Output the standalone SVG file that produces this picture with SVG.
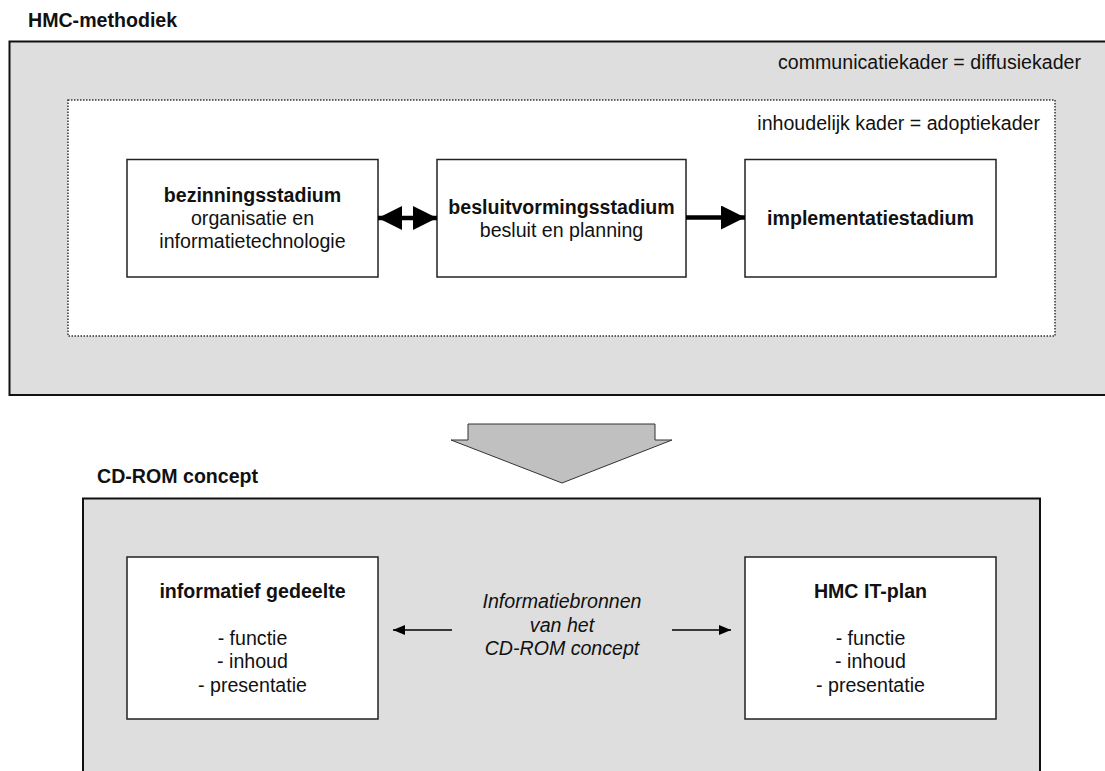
<svg xmlns="http://www.w3.org/2000/svg" width="1105" height="771" viewBox="0 0 1105 771">
  <style>
    text { font-family: "Liberation Sans", Arial, sans-serif; font-size: 19.6px; fill: #111; }
    .b { font-weight: bold; }
    .i { font-style: italic; }
    .mid { text-anchor: middle; }
    .frame { fill: #dedede; stroke: #111; stroke-width: 2; }
    .box { fill: #fff; stroke: #222; stroke-width: 1.5; }
    .dotted { fill: #fff; stroke: #333; stroke-width: 1.5; stroke-dasharray: 1.5 1.5; }
    .thick { stroke: #000; stroke-width: 4.5; fill: none; }
    .thin { stroke: #000; stroke-width: 1.3; fill: none; }
  </style>
  <defs>
    <marker id="big" viewBox="0 0 24 24" refX="24" refY="12" markerUnits="userSpaceOnUse" markerWidth="24" markerHeight="24" orient="auto-start-reverse">
      <path d="M0,0 L24,12 L0,24 Z" fill="#000"/>
    </marker>
    <marker id="small" viewBox="0 0 12 10" refX="12" refY="5" markerUnits="userSpaceOnUse" markerWidth="12" markerHeight="10" orient="auto">
      <path d="M0,0 L12,5 L0,10 Z" fill="#000"/>
    </marker>
  </defs>

  <!-- HMC-methodiek frame -->
  <g id="hmc-methodiek">
    <text class="b" x="28" y="26.5">HMC-methodiek</text>
    <rect class="frame" x="9.5" y="41.5" width="1105" height="353.5"/>
    <text x="1081" y="69" text-anchor="end">communicatiekader = diffusiekader</text>
  </g>

  <g id="inhoudelijk-kader">
    <rect class="dotted" x="68" y="100" width="987" height="236"/>
    <text x="1040" y="130" text-anchor="end">inhoudelijk kader = adoptiekader</text>
  </g>

  <g id="bezinningsstadium">
    <rect class="box" x="127" y="159.5" width="251" height="117.5"/>
    <text class="b mid" x="252.5" y="201.5">bezinningsstadium</text>
    <text class="mid" x="252.5" y="225">organisatie en</text>
    <text class="mid" x="252.5" y="248">informatietechnologie</text>
  </g>

  <g id="besluitvormingsstadium">
    <rect class="box" x="437" y="159.5" width="249" height="117.5"/>
    <text class="b mid" x="561.5" y="213.5">besluitvormingsstadium</text>
    <text class="mid" x="561.5" y="237">besluit en planning</text>
  </g>

  <g id="implementatiestadium">
    <rect class="box" x="745" y="159.5" width="251" height="117.5"/>
    <text class="b mid" x="870.5" y="225">implementatiestadium</text>
  </g>

  <!-- transition to the CD-ROM concept -->
  <g id="overgang">
    <path d="M468,424 L655,424 L655,440 L672,440 L562,483 L451,440 L468,440 Z" fill="#c0c0c0" stroke="#333" stroke-width="1"/>
  </g>

  <!-- CD-ROM concept frame -->
  <g id="cd-rom-concept">
    <text class="b" x="97" y="483">CD-ROM concept</text>
    <rect class="frame" x="83" y="498.5" width="957" height="290"/>
  </g>

  <g id="informatief-gedeelte">
    <rect class="box" x="127" y="557" width="251" height="162"/>
    <text class="b mid" x="252.5" y="597.5">informatief gedeelte</text>
    <text class="mid" x="252.5" y="645">- functie</text>
    <text class="mid" x="252.5" y="668">- inhoud</text>
    <text class="mid" x="252.5" y="691.5">- presentatie</text>
  </g>

  <g id="hmc-it-plan">
    <rect class="box" x="745" y="557" width="251" height="162"/>
    <text class="b mid" x="870.5" y="598">HMC IT-plan</text>
    <text class="mid" x="870.5" y="645">- functie</text>
    <text class="mid" x="870.5" y="668">- inhoud</text>
    <text class="mid" x="870.5" y="691.5">- presentatie</text>
  </g>

  <g id="informatiebronnen">
    <text class="i mid" x="562" y="608">Informatiebronnen</text>
    <text class="i mid" x="562" y="631.5">van het</text>
    <text class="i mid" x="562" y="655">CD-ROM concept</text>
  </g>

  <!-- connectors -->
  <g id="connectors">
    <line class="thick" x1="378" y1="218" x2="437" y2="218" marker-start="url(#big)" marker-end="url(#big)"/>
    <line class="thick" x1="686" y1="217.5" x2="745" y2="217.5" marker-end="url(#big)"/>
    <line class="thin" x1="452" y1="630" x2="393" y2="630" marker-end="url(#small)"/>
    <line class="thin" x1="672" y1="630" x2="731" y2="630" marker-end="url(#small)"/>
  </g>
</svg>
